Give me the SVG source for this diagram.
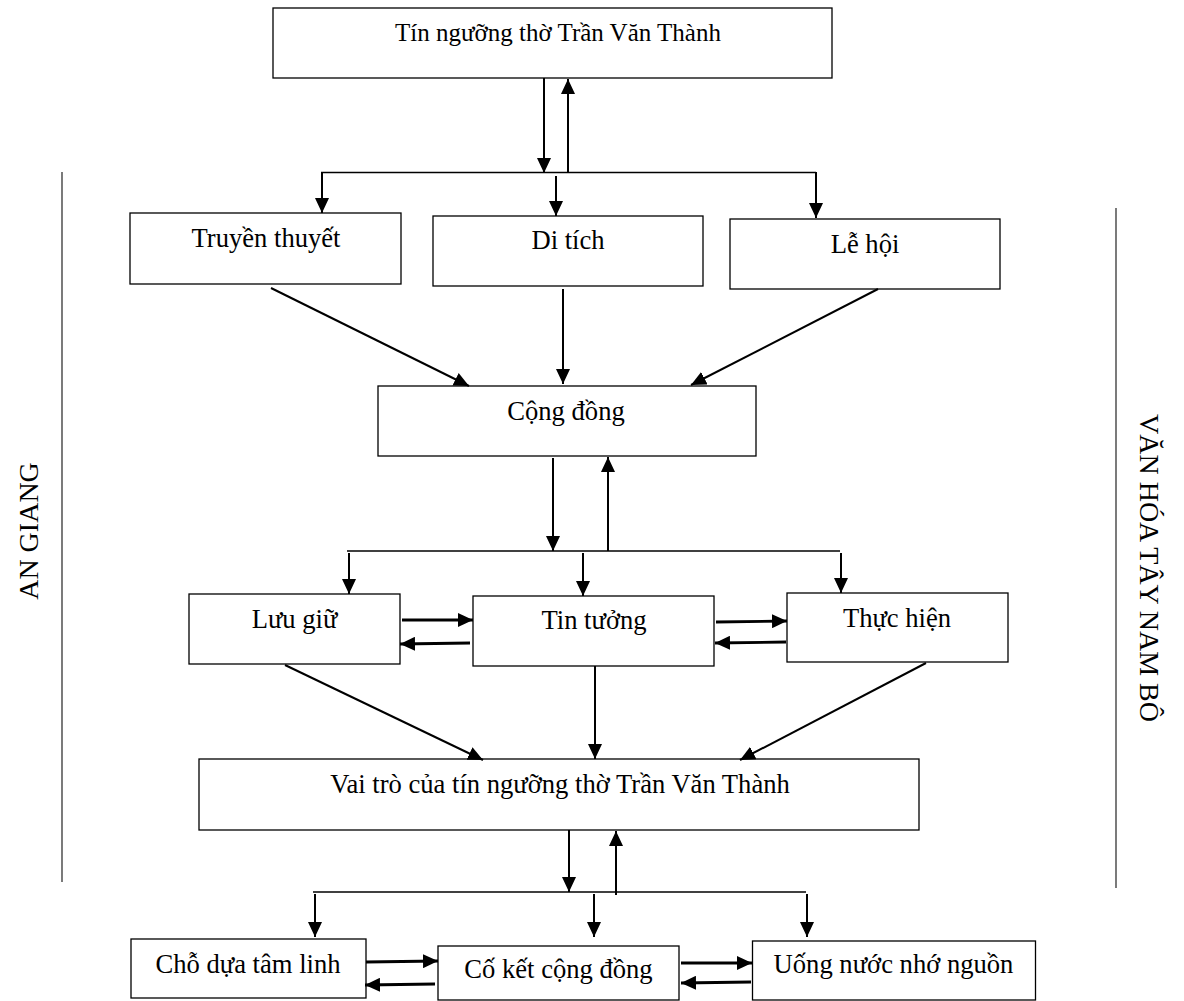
<svg xmlns="http://www.w3.org/2000/svg" width="1184" height="1001" viewBox="0 0 1184 1001">
<style>
.box{fill:#fff;stroke:#000;stroke-width:1.3}
.t{font-family:"Liberation Serif","Times New Roman",serif;font-size:26.6px;fill:#000;text-anchor:middle}
.side{font-family:"Liberation Serif","Times New Roman",serif;font-size:28px;fill:#000;text-anchor:middle}
.c{fill:none;stroke:#000;stroke-width:2}
.h{fill:none;stroke:#000;stroke-width:1.5}
.hb{fill:none;stroke:#000;stroke-width:2.8}
.sl{fill:none;stroke:#333;stroke-width:1.3}
</style>
<defs>
<marker id="ah" markerUnits="userSpaceOnUse" markerWidth="16" markerHeight="14" refX="15" refY="7" orient="auto" viewBox="0 0 16 14">
<path d="M0,0 L15,7 L0,14 z" fill="#000"/>
</marker>
</defs>
<rect width="1184" height="1001" fill="#fff"/>

<g id="side-labels">
<line class="sl" x1="62" y1="172" x2="62" y2="882"/>
<line class="sl" x1="1116" y1="208" x2="1116" y2="888"/>
<text class="side" transform="translate(38,531) rotate(-90)">AN GIANG</text>
<text class="side" transform="translate(1140,568) rotate(90)">VĂN HÓA TÂY NAM BÔ</text>
</g>

<g id="n-title"><rect class="box" x="273" y="8" width="559" height="70"/><text class="t" x="558" y="41" style="font-size:25px">Tín ngưỡng thờ Trần Văn Thành</text></g>
<g id="n-truyenthuyet"><rect class="box" x="130" y="213" width="271" height="71"/><text class="t" x="266" y="247">Truyền thuyết</text></g>
<g id="n-ditich"><rect class="box" x="433" y="216" width="270" height="70"/><text class="t" x="568" y="249">Di tích</text></g>
<g id="n-lehoi"><rect class="box" x="730" y="219" width="270" height="70"/><text class="t" x="865" y="253">Lễ hội</text></g>
<g id="n-congdong"><rect class="box" x="378" y="386" width="378" height="70"/><text class="t" x="566" y="420">Cộng đồng</text></g>
<g id="n-luugiu"><rect class="box" x="189" y="594" width="211" height="70"/><text class="t" x="294.5" y="628">Lưu giữ</text></g>
<g id="n-tintuong"><rect class="box" x="473" y="596" width="241" height="70"/><text class="t" x="594" y="629">Tin tưởng</text></g>
<g id="n-thuchien"><rect class="box" x="787" y="593" width="221" height="69"/><text class="t" x="897" y="627">Thực hiện</text></g>
<g id="n-vaitro"><rect class="box" x="199" y="759" width="720" height="71"/><text class="t" x="560" y="793">Vai trò của tín ngưỡng thờ Trần Văn Thành</text></g>
<g id="n-chodua"><rect class="box" x="131" y="939" width="235" height="59"/><text class="t" x="248" y="973">Chỗ dựa tâm linh</text></g>
<g id="n-coket"><rect class="box" x="438" y="946" width="241" height="54"/><text class="t" x="558.5" y="978">Cố kết cộng đồng</text></g>
<g id="n-uongnuoc"><rect class="box" x="752.5" y="941" width="283" height="59"/><text class="t" x="893.5" y="973">Uống nước nhớ nguồn</text></g>

<g id="connectors">
<line class="c" x1="544" y1="78" x2="544" y2="173" marker-end="url(#ah)"/>
<line class="c" x1="568" y1="173" x2="568" y2="79" marker-end="url(#ah)"/>
<line class="h" x1="321" y1="172.5" x2="816" y2="172.5"/>
<line class="c" x1="322" y1="172" x2="322" y2="213" marker-end="url(#ah)"/>
<line class="c" x1="556" y1="176" x2="556" y2="216" marker-end="url(#ah)"/>
<line class="c" x1="816" y1="172" x2="816" y2="218" marker-end="url(#ah)"/>

<line class="c" x1="271" y1="288" x2="469" y2="386" marker-end="url(#ah)"/>
<line class="c" x1="563" y1="289" x2="563" y2="384" marker-end="url(#ah)"/>
<line class="c" x1="878" y1="289" x2="691" y2="385" marker-end="url(#ah)"/>

<line class="c" x1="553" y1="458" x2="553" y2="551" marker-end="url(#ah)"/>
<line class="c" x1="608" y1="551" x2="608" y2="457" marker-end="url(#ah)"/>
<line class="h" x1="347" y1="551" x2="840" y2="551"/>
<line class="c" x1="349" y1="553" x2="349" y2="594" marker-end="url(#ah)"/>
<line class="c" x1="583" y1="553" x2="583" y2="596" marker-end="url(#ah)"/>
<line class="c" x1="841" y1="553" x2="841" y2="593" marker-end="url(#ah)"/>

<line class="hb" x1="402" y1="620" x2="473" y2="620" marker-end="url(#ah)"/>
<line class="hb" x1="470" y1="643" x2="400" y2="644" marker-end="url(#ah)"/>
<line class="hb" x1="716" y1="622" x2="787" y2="621" marker-end="url(#ah)"/>
<line class="hb" x1="786" y1="642" x2="715" y2="643" marker-end="url(#ah)"/>

<line class="c" x1="285" y1="665" x2="483" y2="760" marker-end="url(#ah)"/>
<line class="c" x1="595" y1="666" x2="595" y2="759" marker-end="url(#ah)"/>
<line class="c" x1="926" y1="663" x2="740" y2="760" marker-end="url(#ah)"/>

<line class="c" x1="569" y1="830" x2="569" y2="892" marker-end="url(#ah)"/>
<line class="c" x1="616" y1="895" x2="616" y2="831" marker-end="url(#ah)"/>
<line class="h" x1="313" y1="892" x2="806" y2="892"/>
<line class="c" x1="315" y1="894" x2="315" y2="937" marker-end="url(#ah)"/>
<line class="c" x1="594" y1="894" x2="594" y2="937" marker-end="url(#ah)"/>
<line class="c" x1="807" y1="894" x2="807" y2="937" marker-end="url(#ah)"/>

<line class="hb" x1="366" y1="962" x2="438" y2="961" marker-end="url(#ah)"/>
<line class="hb" x1="435" y1="984" x2="365" y2="985" marker-end="url(#ah)"/>
<line class="hb" x1="681" y1="963" x2="752" y2="963" marker-end="url(#ah)"/>
<line class="hb" x1="751" y1="982" x2="681" y2="983" marker-end="url(#ah)"/>
</g>
</svg>
